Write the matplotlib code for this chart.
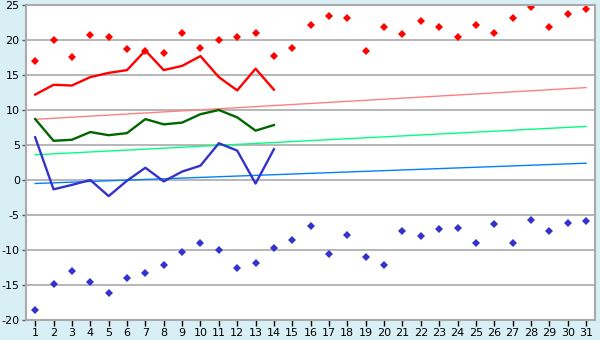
import matplotlib
matplotlib.use('Agg')
import matplotlib.pyplot as plt

# days of the month
days = list(range(1, 32))

# daily extremes (diamonds)
max_temp = [17.0, 20.0, 17.6, 20.7, 20.5, 18.7, 18.5, 18.2, 21.0, 18.8,
            20.0, 20.5, 21.0, 17.7, 18.8, 22.2, 23.4, 23.2, 18.5, 21.9,
            20.8, 22.7, 21.9, 20.5, 22.2, 21.0, 23.2, 24.7, 21.9, 23.7, 24.4]
min_temp = [-18.6, -14.9, -13.0, -14.5, -16.2, -14.0, -13.3, -12.2, -10.3, -9.05,
            -10.05, -12.6, -11.9, -9.75, -8.5, -6.6, -10.6, -7.9, -11.05, -12.2,
            -7.3, -8.05, -7.05, -6.9, -9.05, -6.3, -9.05, -5.75, -7.3, -6.2, -5.9]

# measured series (first 14 days)
line_days = list(range(1, 15))
high_line = [12.2, 13.6, 13.5, 14.7, 15.3, 15.7, 18.5, 15.7, 16.3, 17.7, 14.7, 12.8, 15.9, 12.9]
mean_line = [8.7, 5.6, 5.75, 6.85, 6.4, 6.7, 8.7, 7.95, 8.2, 9.4, 10.0, 8.95, 7.05, 7.85]
low_line = [6.1, -1.33, -0.7, 0.0, -2.3, -0.1, 1.75, -0.2, 1.2, 2.05, 5.25, 4.2, -0.5, 4.4]

# normal trend lines (value on day 1, value on day 31)
trend_days = [1, 31]
trend_high = [8.67, 13.2]
trend_mean = [3.6, 7.65]
trend_low = [-0.5, 2.4]

bg = '#d9eff6'
grid_col = '#aaaaaa'

plt.rcParams['axes.unicode_minus'] = False

fig = plt.figure(figsize=(6, 3.4), dpi=100, facecolor=bg)
ax = fig.add_axes([26 / 600, 1 - 320 / 340, (595.3 - 26) / 600, 315 / 340])
ax.set_facecolor('white')

ax.set_xlim(0.5, 31.5)
ax.set_ylim(-20, 25)
ax.set_yticks(range(-20, 26, 5))
ax.set_xticks(days)
ax.yaxis.grid(True, color=grid_col, linewidth=1.2)
ax.set_axisbelow(True)

for s in ax.spines.values():
    s.set_color(grid_col)
    s.set_linewidth(1.5)

ax.tick_params(axis='both', colors='#000000', labelsize=8, length=4,
               width=1, pad=1.5)
ax.tick_params(axis='y', color='#555555', length=3)

# trend lines
ax.plot(trend_days, trend_high, color='#ff8080', linewidth=1)
ax.plot(trend_days, trend_mean, color='#00ff80', linewidth=1)
ax.plot(trend_days, trend_low, color='#0080ff', linewidth=1)

# measured lines
ax.plot(line_days, high_line, color='#ff0000', linewidth=1.7)
ax.plot(line_days, mean_line, color='#006600', linewidth=1.7)
ax.plot(line_days, low_line, color='#3333cc', linewidth=1.7)

# extremes
ax.plot(days, max_temp, linestyle='none', marker='D', markersize=3.8,
        color='#ff0000', markeredgewidth=0)
ax.plot(days, min_temp, linestyle='none', marker='D', markersize=3.8,
        color='#3333cc', markeredgewidth=0)

fig.savefig('out.png', dpi=100, facecolor=bg)
